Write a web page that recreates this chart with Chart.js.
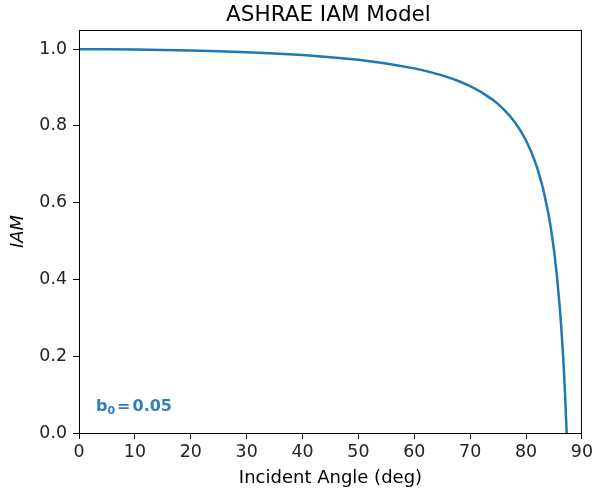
<!DOCTYPE html>
<html>
<head>
<meta charset="utf-8">
<script src="https://cdn.jsdelivr.net/npm/chart.js@4/dist/chart.umd.min.js"></script>
<style>
  html, body { margin: 0; padding: 0; background: #fff; }
  #wrap { width: 596px; height: 495px; }
</style>
</head>
<body>
<div id="wrap"><canvas id="grafico" width="596" height="495"></canvas></div>
<script>
// DADOS
const titulo = "ASHRAE IAM Model";
const angulos = [0, 5, 10, 15, 20, 25, 30, 35, 40, 45, 50, 55, 60, 62, 65, 67, 68, 70, 72, 74, 75, 76, 77, 78, 79, 80, 81, 82, 83, 84, 84.5, 85, 85.5, 86, 86.25, 86.5, 86.75, 87, 87.27];
const valoresIAM = [1.000, 0.9998, 0.9992, 0.9982, 0.9968, 0.9948, 0.9923, 0.9890, 0.9847, 0.9793, 0.9722, 0.9628, 0.9500, 0.9435, 0.9317, 0.9220, 0.9165, 0.9038, 0.8882, 0.8686, 0.8568, 0.8433, 0.8277, 0.8095, 0.7880, 0.7621, 0.7304, 0.6907, 0.6397, 0.5717, 0.5283, 0.4763, 0.4127, 0.3332, 0.2855, 0.2310, 0.1681, 0.0946, 0.000];
const ticksX = [0, 10, 20, 30, 40, 50, 60, 70, 80, 90];
const ticksY = [0.0, 0.2, 0.4, 0.6, 0.8, 1.0];

const pontos = angulos.map((a, i) => ({ x: a, y: valoresIAM[i] }));
const fonte = "'DejaVu Sans', sans-serif";
const azul = "#1f77b4";

// MOLDURA, TÍTULO E ANOTAÇÃO
const moldura = {
  id: "moldura",
  afterDraw(chart) {
    const { ctx, chartArea: a } = chart;
    ctx.save();
    ctx.strokeStyle = "#000";
    ctx.lineWidth = 1;
    ctx.strokeRect(a.left + 0.5, a.top + 0.5, a.right - a.left - 1, a.bottom - a.top);
    // título centrado sobre a área do gráfico
    ctx.fillStyle = "#000";
    ctx.textAlign = "center";
    ctx.textBaseline = "alphabetic";
    ctx.font = "21.5px " + fonte;
    ctx.fillText(titulo, (a.left + a.right) / 2 - 2, 20.5);
    // b0 = 0.05
    ctx.textAlign = "left";
    const x0 = a.left + 17, y0 = a.bottom - 22;
    ctx.fillStyle = "#2f7fbf";
    ctx.font = "bold 16px " + fonte;
    ctx.fillText("b", x0, y0);
    let x = x0 + ctx.measureText("b").width;
    ctx.font = "bold 11px " + fonte;
    ctx.fillText("0", x, y0 + 3);
    x += ctx.measureText("0").width + 2;
    ctx.font = "bold 16px " + fonte;
    ctx.fillText("=", x, y0);
    x += ctx.measureText("=").width + 2;
    ctx.fillText("0.05", x, y0);
    ctx.restore();
  }
};

new Chart(document.getElementById("grafico"), {
  type: "scatter",
  data: {
    datasets: [{
      data: pontos,
      showLine: true,
      borderColor: azul,
      borderWidth: 2.5,
      pointRadius: 0,
      tension: 0,
      fill: false
    }]
  },
  options: {
    responsive: false,
    animation: false,
    layout: { padding: { left: 0, right: 10, top: 30, bottom: 0 } },
    plugins: {
      legend: { display: false },
      tooltip: { enabled: false },
      title: { display: false }
    },
    scales: {
      x: {
        type: "linear",
        min: 0, max: 90,
        afterBuildTicks: s => { s.ticks = ticksX.map(v => ({ value: v })); },
        afterFit: s => { s.height = 62; },
        grid: { display: true, drawOnChartArea: false, drawTicks: true, tickLength: 6, color: "#000" },
        border: { display: false },
        ticks: { color: "#222", font: { family: fonte, size: 17.4 }, padding: 3, maxRotation: 0 },
        title: { display: true, text: "Incident Angle (deg)", color: "#000", font: { family: fonte, size: 18 }, padding: { top: 2, bottom: 6 } }
      },
      y: {
        type: "linear",
        min: 0, max: 1.05,
        afterBuildTicks: s => { s.ticks = ticksY.map(v => ({ value: v })); },
        afterFit: s => { s.width = 79; },
        grid: { display: true, drawOnChartArea: false, drawTicks: true, tickLength: 6, color: "#000" },
        border: { display: false },
        ticks: { color: "#222", font: { family: fonte, size: 17.4 }, padding: 6, callback: v => v.toFixed(1) },
        title: { display: true, text: "IAM", color: "#000", font: { family: fonte, size: 18, style: "italic" }, padding: { top: 8, bottom: 4 } }
      }
    }
  },
  plugins: [moldura]
});
</script>
</body>
</html>
